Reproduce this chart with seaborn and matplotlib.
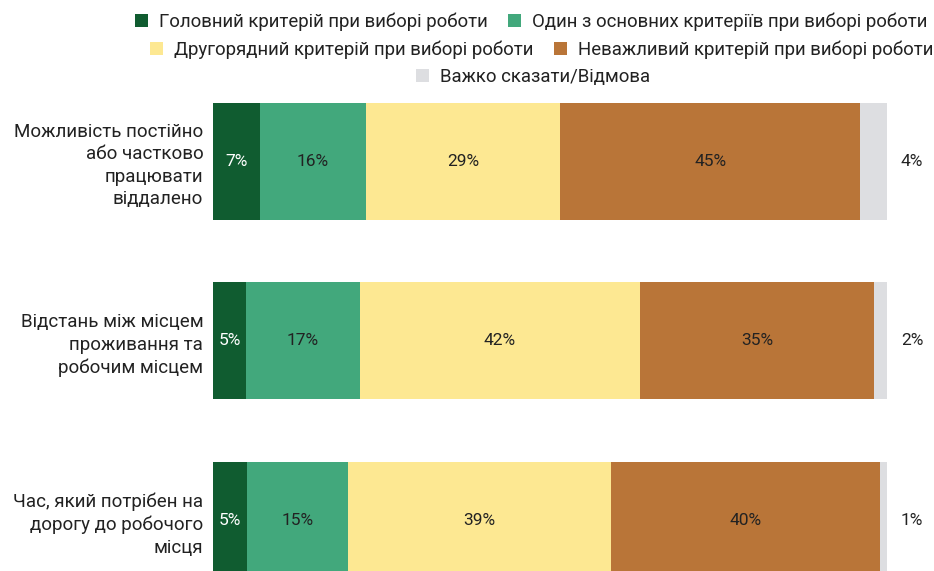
import numpy as np
import pandas as pd
import seaborn as sns
import matplotlib.pyplot as plt
from matplotlib.patches import Patch

# data
categories = ['Можливість постійно\nабо частково\nпрацювати\nвіддалено',
              'Відстань між місцем\nпроживання та\nробочим місцем',
              'Час, який потрібен на\nдорогу до робочого\nмісця']
series = ['Головний критерій при виборі роботи',
          'Один з основних критеріїв при виборі роботи',
          'Другорядний критерій при виборі роботи',
          'Неважливий критерій при виборі роботи',
          'Важко сказати/Відмова']
main_crit = [7, 5, 5]
one_of_main = [16, 17, 15]
secondary = [29, 42, 39]
unimportant = [45, 35, 40]
hard_to_say = [4, 2, 1]

colors = ['#105c30', '#42a87c', '#fde892', '#b97538', '#dddee1']
text_colors = ['white', '#222222', '#222222', '#222222', '#222222']

sns.set_theme(style='white')
plt.rcParams['font.family'] = ['Roboto', 'DejaVu Sans']

vals = np.array([main_crit, one_of_main, secondary, unimportant, hard_to_say], dtype=float)
# bars are drawn normalised to 100%
widths = vals / vals.sum(axis=0) * 100
cum = widths.cumsum(axis=0)

fig = plt.figure(figsize=(9.34, 5.71), dpi=100)
W, H = 934, 571
ax = fig.add_axes([213 / W, 1 - 610 / H, 674 / W, (610 - 71.5) / H])

# stacked bars: draw cumulative totals from the back
for i in range(len(series) - 1, -1, -1):
    df = pd.DataFrame({'cat': categories, 'val': cum[i]})
    sns.barplot(data=df, x='val', y='cat', orient='h', color=colors[i],
                saturation=1, width=0.65, linewidth=0, ax=ax)

for j in range(len(categories)):
    for i in range(len(series)):
        label = f'{int(vals[i, j])}%'
        if i == len(series) - 1:
            ax.text(103.7, j, label, ha='center', va='center',
                    fontsize=12.5, color='#222222')
        else:
            ax.text(cum[i, j] - widths[i, j] / 2, j, label, ha='center',
                    va='center', fontsize=12.5, color=text_colors[i])

ax.set_xlim(0, 100)
ax.set_ylim(2.5, -0.5)
ax.set_xlabel('')
ax.set_ylabel('')
ax.set_xticks([])
ax.tick_params(axis='y', length=0, pad=7, labelsize=13.5, labelcolor='#222222')
for lab in ax.get_yticklabels():
    lab.set_linespacing(1.32)
sns.despine(ax=ax, left=True, bottom=True)

# legend in three centred rows
rows = [([0, 1], 531, 22), ([2, 3], 542, 50), ([4], 533, 77)]
for idx, cx, cy in rows:
    handles = [Patch(facecolor=colors[k], edgecolor='none', label=series[k]) for k in idx]
    leg = fig.legend(handles=handles, loc='center', ncol=len(idx),
                     bbox_to_anchor=(cx / W, 1 - cy / H), frameon=False,
                     fontsize=13.4, handlelength=0.7, handleheight=0.7,
                     handletextpad=0.6, columnspacing=1.1, borderpad=0)
    for t in leg.get_texts():
        t.set_color('#222222')

fig.savefig('out.png', dpi=100)
